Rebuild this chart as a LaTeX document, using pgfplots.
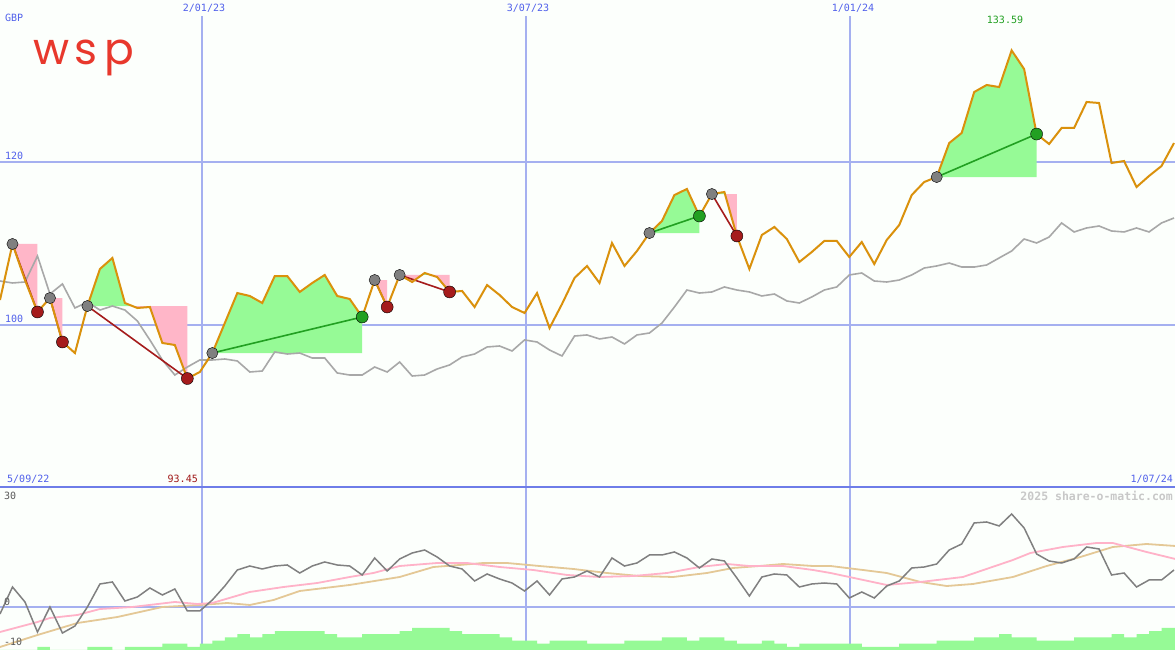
\documentclass[border=0pt]{standalone}
\usepackage{fontspec}
\setmainfont{DejaVu Sans Mono}
\newfontfamily\logofont{Poppins}
\usepackage{pgfplots}
\usepackage{pgfplotstable}
\pgfplotsset{compat=1.18}

\definecolor{bg}{RGB}{252,255,252}
\definecolor{labelblue}{RGB}{80,96,235}
\definecolor{gridblue}{RGB}{165,176,240}
\definecolor{darkblue}{RGB}{110,125,232}
\definecolor{priceorange}{RGB}{218,145,12}
\definecolor{greyline}{RGB}{168,168,168}
\definecolor{pinkfill}{RGB}{255,182,200}
\definecolor{greenfill}{RGB}{150,250,150}
\definecolor{tradegreen}{RGB}{34,160,34}
\definecolor{tradered}{RGB}{165,28,28}
\definecolor{markergray}{RGB}{128,128,128}
\definecolor{oscgrey}{RGB}{128,128,128}
\definecolor{oscpink}{RGB}{255,178,200}
\definecolor{osctan}{RGB}{228,200,150}
\definecolor{logored}{RGB}{232,56,44}
\definecolor{wmgrey}{RGB}{200,200,200}
\definecolor{axgrey}{RGB}{90,90,90}
\definecolor{minred}{RGB}{160,24,24}

\pgfplotstableread{
i v
0 103.06
1 109.91
2 105.50
3 101.59
4 103.30
5 97.92
6 96.57
7 102.32
8 106.85
9 108.20
10 102.69
11 102.08
12 102.20
13 97.80
14 97.55
15 93.45
16 94.25
17 96.57
18 100.24
19 103.91
20 103.55
21 102.69
22 105.99
23 105.99
24 104.04
25 105.14
26 106.12
27 103.55
28 103.18
29 100.98
30 105.50
31 102.20
32 106.12
33 105.26
34 106.36
35 105.87
36 104.04
37 104.16
38 102.20
39 104.89
40 103.67
41 102.20
42 101.47
43 103.91
44 99.63
45 102.57
46 105.75
47 107.22
48 105.14
49 110.03
50 107.22
51 109.05
52 111.25
53 112.72
54 115.90
55 116.64
56 113.33
57 116.02
58 116.27
59 110.89
60 106.85
61 111.01
62 111.99
63 110.52
64 107.71
65 108.93
66 110.28
67 110.28
68 108.32
69 110.15
70 107.46
71 110.40
72 112.23
73 115.90
74 117.49
75 118.10
76 122.26
77 123.49
78 128.50
79 129.36
80 129.11
81 133.59
82 131.31
83 123.36
84 122.14
85 124.10
86 124.10
87 127.28
88 127.16
89 119.82
90 120.06
91 116.88
92 118.23
93 119.45
94 122.26
}\price

\pgfplotstableread{
i v
0 105.38
1 105.14
2 105.26
3 108.44
4 103.79
5 105.02
6 102.08
7 102.81
8 101.83
9 102.32
10 101.83
11 100.49
12 98.17
13 95.72
14 93.88
15 94.86
16 95.72
17 95.72
18 95.84
19 95.60
20 94.25
21 94.37
22 96.70
23 96.45
24 96.57
25 95.96
26 95.96
27 94.13
28 93.88
29 93.88
30 94.86
31 94.25
32 95.47
33 93.76
34 93.88
35 94.62
36 95.11
37 96.09
38 96.45
39 97.31
40 97.43
41 96.82
42 98.17
43 97.92
44 96.94
45 96.21
46 98.65
47 98.78
48 98.29
49 98.53
50 97.68
51 98.78
52 99.02
53 100.24
54 102.20
55 104.28
56 103.91
57 104.04
58 104.65
59 104.28
60 104.04
61 103.55
62 103.79
63 102.94
64 102.69
65 103.43
66 104.28
67 104.65
68 106.12
69 106.36
70 105.38
71 105.26
72 105.50
73 106.12
74 106.97
75 107.22
76 107.58
77 107.09
78 107.09
79 107.34
80 108.20
81 109.05
82 110.52
83 110.03
84 110.76
85 112.48
86 111.38
87 111.87
88 112.11
89 111.50
90 111.38
91 111.87
92 111.38
93 112.48
94 113.09
}\index

\pgfplotstableread{
i v
0 -1.98
1 5.66
2 1.42
3 -7.08
4 0
5 -7.36
6 -5.38
7 0
8 6.51
9 7.08
10 1.70
11 2.83
12 5.38
13 3.40
14 5.09
15 -1.13
16 -1.13
17 1.98
18 5.94
19 10.47
20 11.60
21 10.76
22 11.60
23 11.89
24 9.62
25 11.60
26 12.74
27 11.89
28 11.60
29 9.06
30 13.87
31 10.19
32 13.59
33 15.28
34 16.13
35 14.15
36 11.60
37 10.76
38 7.36
39 9.34
40 7.93
41 6.79
42 4.53
43 7.36
44 3.40
45 7.93
46 8.49
47 10.19
48 8.49
49 13.87
50 11.60
51 12.45
52 14.72
53 14.72
54 15.57
55 13.87
56 11.04
57 13.59
58 13.02
59 8.21
60 3.11
61 8.49
62 9.34
63 9.06
64 5.66
65 6.51
66 6.79
67 6.51
68 2.55
69 4.25
70 2.55
71 5.94
72 7.36
73 11.04
74 11.32
75 12.17
76 16.13
77 17.83
78 23.78
79 24.06
80 22.93
81 26.32
82 22.36
83 15.00
84 13.02
85 12.45
86 13.59
87 16.98
88 16.42
89 9.06
90 9.62
91 5.66
92 7.64
93 7.64
94 10.47
}\osc

\pgfplotstableread{
i v
0 -7.08
3 -4.25
4 -3.11
6.2 -2.26
8 -0.57
10.6 0
14 1.42
15.8 0.85
17 1.13
20 4.25
22.7 5.66
25.4 6.79
28 8.49
29.9 9.62
32 11.6
35 12.45
37.4 12.45
40 11.32
42.7 10.47
45.4 9.06
48 8.49
50.7 8.77
53.4 9.62
56 11.32
58.2 12.17
60 11.6
62.7 11.6
65.1 10.47
66.5 9.62
68 8.49
71 6.23
73.7 7.08
77.1 8.49
81.1 13.30
82.5 15.28
85.1 16.98
87.8 18.11
89.1 18.11
91.8 15.57
94.1 13.59
}\oscpink

\pgfplotstableread{
i v
0 -11.32
3 -7.93
6.2 -4.53
9.4 -2.83
13 0
16 0.57
18.2 1.13
20 0.57
21.9 1.98
24 4.53
28 6.23
32 8.49
34.7 11.32
36.8 11.89
38.7 12.45
40.6 12.45
43.2 11.6
45.9 10.76
48.6 9.62
51.2 8.77
53.9 8.49
56.6 9.62
58.7 11.04
60.8 11.6
62.7 12.17
65.1 11.6
66.5 11.6
69.1 10.47
71 9.62
73.7 7.08
75.8 5.94
77.9 6.51
81.1 8.49
83.8 11.6
86.5 14.15
89.1 16.98
91.8 17.83
94.1 17.27
}\osctan

\pgfplotstableread{
i v
0 0
1 0
2 0
3 1
4 0
5 0
6 0
7 1
8 1
9 0
10 1
11 1
12 1
13 2
14 2
15 1
16 2
17 3
18 4
19 5
20 4
21 5
22 6
23 6
24 6
25 6
26 5
27 4
28 4
29 5
30 5
31 5
32 6
33 7
34 7
35 7
36 6
37 5
38 5
39 5
40 4
41 3
42 3
43 2
44 3
45 3
46 3
47 2
48 2
49 2
50 3
51 3
52 3
53 4
54 4
55 3
56 4
57 4
58 3
59 2
60 2
61 3
62 2
63 1
64 2
65 2
66 2
67 2
68 2
69 1
70 1
71 1
72 2
73 2
74 2
75 3
76 3
77 3
78 4
79 4
80 5
81 4
82 4
83 3
84 3
85 3
86 4
87 4
88 4
89 5
90 4
91 5
92 6
93 7
94.08 7
}\volume

\begin{document}
\begin{tikzpicture}[x=1pt,y=1pt]
\fill[bg] (0,0) rectangle (1175,650);

% ---------------- main price panel
\begin{axis}[at={(0pt,163pt)}, anchor=south west, scale only axis,
  width=1175pt, height=487pt, xmin=0, xmax=94.08, ymin=80.18, ymax=139.76,
  hide axis]
\addplot[gridblue, line width=2pt, forget plot] coordinates {(0,120) (94.08,120)};
\addplot[gridblue, line width=2pt, forget plot] coordinates {(0,100) (94.08,100)};
\addplot[gridblue, line width=1.2pt, forget plot] coordinates {(16.17,137.8) (16.17,80.18)};
\addplot[gridblue, line width=1.2pt, forget plot] coordinates {(42.11,137.8) (42.11,80.18)};
\addplot[gridblue, line width=1.2pt, forget plot] coordinates {(68.05,137.8) (68.05,80.18)};
% trade areas
\addplot[fill=pinkfill, draw=none] coordinates {(1,109.91) (2,105.50) (3,101.59) (3,109.91)};
\addplot[fill=pinkfill, draw=none] coordinates {(4,103.30) (5,97.92) (5,103.30)};
\addplot[fill=greenfill, draw=none] coordinates {(7,102.32) (8,106.85) (9,108.20) (10,102.69) (10.607,102.32)};
\addplot[fill=pinkfill, draw=none] coordinates {(10.607,102.32) (11,102.08) (12,102.20) (13,97.80) (14,97.55) (15,93.45) (15,102.32)};
\addplot[fill=greenfill, draw=none] coordinates {(17,96.57) (18,100.24) (19,103.91) (20,103.55) (21,102.69) (22,105.99) (23,105.99) (24,104.04) (25,105.14) (26,106.12) (27,103.55) (28,103.18) (29,100.98) (29,96.57)};
\addplot[fill=pinkfill, draw=none] coordinates {(30,105.50) (31,102.20) (31,105.50)};
\addplot[fill=pinkfill, draw=none] coordinates {(32,106.12) (33,105.26) (33.78,106.12)};
\addplot[fill=greenfill, draw=none] coordinates {(33.78,106.12) (34,106.36) (34.49,106.12)};
\addplot[fill=pinkfill, draw=none] coordinates {(34.49,106.12) (35,105.87) (36,104.04) (36,106.12)};
\addplot[fill=greenfill, draw=none] coordinates {(52,111.25) (53,112.72) (54,115.90) (55,116.64) (56,113.33) (56,111.25)};
\addplot[fill=greenfill, draw=none] coordinates {(57,116.02) (58,116.27) (58.05,116.02)};
\addplot[fill=pinkfill, draw=none] coordinates {(58.05,116.02) (59,110.89) (59,116.02)};
\addplot[fill=greenfill, draw=none] coordinates {(75,118.10) (76,122.26) (77,123.49) (78,128.50) (79,129.36) (80,129.11) (81,133.59) (82,131.31) (83,123.36) (83,118.10)};
% comparison index
\addplot[greyline, line width=1.6pt] table[x=i, y=v] {\index};
% markers
\addplot[only marks, mark=*, mark size=5.6pt, mark options={draw=none, fill=markergray}] coordinates {(1,109.91) (4,103.30) (7,102.32) (17,96.57) (30,105.50) (32,106.12) (52,111.25) (57,116.02) (75,118.10)};
\addplot[only marks, mark=*, mark size=6pt, mark options={draw=none, fill=tradered}] coordinates {(3,101.59) (5,97.92) (15,93.45) (31,102.20) (36,104.04) (59,110.89)};
\addplot[only marks, mark=*, mark size=6pt, mark options={draw=none, fill=tradegreen}] coordinates {(29,100.98) (56,113.33) (83,123.36)};
% trade lines
\addplot[tradered, line width=1.6pt] coordinates {(1,109.91) (3,101.59)};
\addplot[tradered, line width=1.6pt] coordinates {(4,103.30) (5,97.92)};
\addplot[tradered, line width=1.6pt] coordinates {(7,102.32) (15,93.45)};
\addplot[tradegreen, line width=1.6pt] coordinates {(17,96.57) (29,100.98)};
\addplot[tradered, line width=1.6pt] coordinates {(30,105.50) (31,102.20)};
\addplot[tradered, line width=1.6pt] coordinates {(32,106.12) (36,104.04)};
\addplot[tradegreen, line width=1.6pt] coordinates {(52,111.25) (56,113.33)};
\addplot[tradered, line width=1.6pt] coordinates {(57,116.02) (59,110.89)};
\addplot[tradegreen, line width=1.6pt] coordinates {(75,118.10) (83,123.36)};
% price
\addplot[priceorange, line width=2pt] table[x=i, y=v] {\price};
\end{axis}

% ---------------- lower panel: grid
\begin{axis}[at={(0pt,0pt)}, anchor=south west, scale only axis,
  width=1175pt, height=163pt, xmin=0, xmax=94.08, ymin=-12.17, ymax=33.96,
  hide axis]
\addplot[gridblue, line width=2pt] coordinates {(0,0) (94.08,0)};
\addplot[gridblue, line width=1.2pt] coordinates {(16.17,-12.17) (16.17,33.96)};
\addplot[gridblue, line width=1.2pt] coordinates {(42.11,-12.17) (42.11,33.96)};
\addplot[gridblue, line width=1.2pt] coordinates {(68.05,-12.17) (68.05,33.96)};
\end{axis}

% ---------------- volume bars
\begin{axis}[at={(0pt,0pt)}, anchor=south west, scale only axis,
  width=1175pt, height=163pt, xmin=0, xmax=94.08, ymin=0, ymax=51.75,
  hide axis]
\addplot[const plot, fill=greenfill, draw=none] table[x=i, y=v] {\volume} \closedcycle;
\end{axis}

% ---------------- oscillator lines
\begin{axis}[at={(0pt,0pt)}, anchor=south west, scale only axis,
  width=1175pt, height=163pt, xmin=0, xmax=94.08, ymin=-12.17, ymax=33.96,
  hide axis]
\addplot[osctan, line width=1.8pt] table[x=i, y=v] {\osctan};
\addplot[oscpink, line width=1.8pt] table[x=i, y=v] {\oscpink};
\addplot[oscgrey, line width=1.5pt] table[x=i, y=v] {\osc};
\end{axis}

% separator
\draw[darkblue, line width=2.2pt] (0,163) -- (1175,163);

% labels
\begin{scope}[every node/.style={font=\fontsize{10}{12}\selectfont, inner sep=0pt}]
\node[labelblue, anchor=west] at (5,632) {GBP};
\node[labelblue, anchor=west] at (5,494) {120};
\node[labelblue, anchor=west] at (5,331) {100};
\node[labelblue] at (204,642) {2/01/23};
\node[labelblue] at (528,642) {3/07/23};
\node[labelblue] at (853,642) {1/01/24};
\node[tradegreen] at (1005,630) {133.59};
\node[labelblue, anchor=west] at (7,171) {5/09/22};
\node[minred, anchor=east] at (198,171) {93.45};
\node[labelblue, anchor=east] at (1173,171) {1/07/24};
\node[axgrey, anchor=west] at (4,154) {30};
\node[axgrey, anchor=west] at (4,48) {0};
\node[axgrey, anchor=west] at (4,8) {-10};
\node[wmgrey, anchor=east, font=\fontsize{11.5}{13}\selectfont\bfseries] at (1173,154) {2025 share-o-matic.com};
\end{scope}
\begin{scope}[every node/.style={logored, anchor=base west, inner sep=0pt, font=\logofont\fontsize{44}{44}\selectfont}]
\node at (33,585) {w};
\node at (74,585) {s};
\node at (104,585) {p};
\end{scope}

\pgfresetboundingbox
\path (0,0) rectangle (1175,650);
\end{tikzpicture}
\end{document}
